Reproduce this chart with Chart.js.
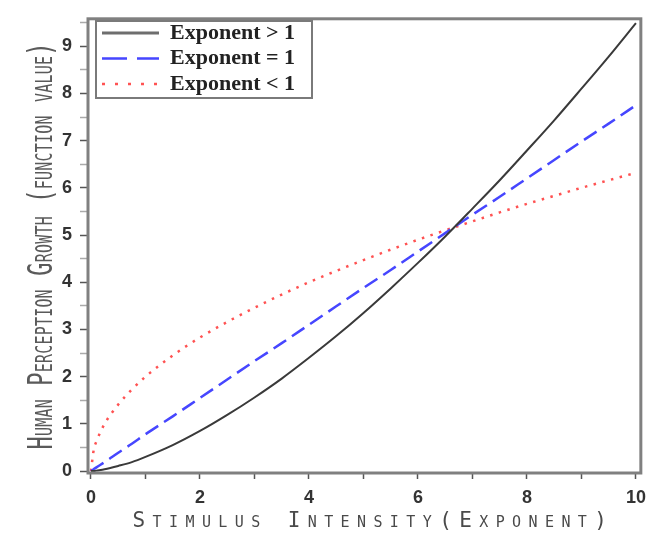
<!DOCTYPE html>
<html>
<head>
<meta charset="utf-8">
<script src="https://cdn.jsdelivr.net/npm/chart.js@4.4.1/dist/chart.umd.min.js"></script>
<style>
  html, body { margin: 0; padding: 0; background: #fff; }
</style>
</head>
<body>
<canvas id="chart" width="654" height="535"></canvas>
<script>
// values
var xValues     = [0, 0.05, 0.1, 0.25, 0.5, 0.75, 1, 1.5, 2, 2.5, 3, 3.5, 4, 4.5, 5, 5.5, 6, 6.5, 7, 7.5, 8, 8.5, 9, 9.5, 10];
var aboveOne    = [0, 0.0, 0.01, 0.04, 0.11, 0.19, 0.30, 0.55, 0.85, 1.19, 1.56, 1.96, 2.40, 2.86, 3.35, 3.87, 4.41, 4.97, 5.56, 6.16, 6.79, 7.43, 8.10, 8.78, 9.49];
var equalOne    = [0, 0.04, 0.08, 0.19, 0.39, 0.58, 0.78, 1.16, 1.55, 1.94, 2.33, 2.71, 3.10, 3.49, 3.88, 4.26, 4.65, 5.04, 5.43, 5.81, 6.20, 6.59, 6.98, 7.36, 7.75];
var belowOne    = [0, 0.45, 0.63, 1.00, 1.41, 1.73, 2.00, 2.45, 2.83, 3.16, 3.46, 3.74, 4.00, 4.24, 4.47, 4.69, 4.90, 5.10, 5.29, 5.48, 5.66, 5.83, 6.00, 6.16, 6.32];
var seriesNames = ['Exponent > 1', 'Exponent = 1', 'Exponent < 1'];
var xTickLabels = [0, 2, 4, 6, 8, 10];
var yTickLabels = [0, 1, 2, 3, 4, 5, 6, 7, 8, 9];

function points(ys) {
  return xValues.map(function (x, i) { return { x: x, y: ys[i] }; });
}

// draw an axis title with small caps, letter spacing and a vertical stretch
function styleTitle(scale, sy, spacing, dx) {
  if (scale._styled) return;
  scale._styled = true;
  var orig = scale.drawTitle;
  scale.drawTitle = function () {
    var ctx = this.ctx;
    var fill = CanvasRenderingContext2D.prototype.fillText;
    ctx.fillText = function (t, x, y) {
      this.save();
      this.fontVariantCaps = 'small-caps';
      this.letterSpacing = spacing;
      this.scale(1, sy);
      fill.call(this, t, x + dx, y / sy);
      this.restore();
    };
    orig.call(this);
    delete ctx.fillText;
  };
}

var legendDash = [[], [25, 10], [3, 10]];

var framePlugin = {
  id: 'frame',
  beforeDraw: function (chart) {
    styleTitle(chart.scales.x, 1.0, '7.4px', 9);
    styleTitle(chart.scales.y, 1.5, '0.2px', 0);
    var lg = chart.legend;
    var pad = lg.options.labels.padding;
    lg.left = 102 - pad;
    lg.top = 22 - pad;
    lg.right = 330;
    lg.bottom = 115;
    lg.width = lg.right - lg.left;
    lg.height = lg.bottom - lg.top;
  },
  afterDatasetsDraw: function (chart) {
    var a = chart.chartArea, ctx = chart.ctx;
    ctx.save();
    ctx.strokeStyle = '#808080';
    ctx.lineWidth = 3;
    ctx.strokeRect(a.left, a.top, a.right - a.left, a.bottom - a.top);
    ctx.restore();
  },
  afterDraw: function (chart) {
    var ctx = chart.ctx;
    ctx.save();
    ctx.strokeStyle = '#7a7a7a';
    ctx.lineWidth = 2;
    ctx.strokeRect(96, 21, 216, 77);
    ctx.restore();
  }
};

var tickFont = { family: 'Liberation Sans', size: 18, weight: 'bold' };

new Chart(document.getElementById('chart').getContext('2d'), {
  type: 'line',
  data: {
    datasets: [{
      label: seriesNames[0],
      data: points(aboveOne),
      borderColor: '#3a3a3a',
      borderWidth: 2,
      pointRadius: 0,
      cubicInterpolationMode: 'monotone',
      fill: false
    }, {
      label: seriesNames[1],
      data: points(equalOne),
      borderColor: '#4646ff',
      borderWidth: 2.5,
      borderDash: [15, 7],
      pointRadius: 0,
      cubicInterpolationMode: 'monotone',
      fill: false
    }, {
      label: seriesNames[2],
      data: points(belowOne),
      borderColor: '#ff5252',
      borderWidth: 2.5,
      borderDash: [2.5, 6.5],
      pointRadius: 0,
      cubicInterpolationMode: 'monotone',
      fill: false
    }]
  },
  options: {
    responsive: false,
    animation: false,
    events: [],
    layout: { padding: { top: 11, right: 6, left: 0, bottom: 0 } },
    plugins: {
      tooltip: { enabled: false },
      legend: {
        position: 'chartArea',
        align: 'start',
        labels: {
          usePointStyle: true,
          pointStyle: 'line',
          pointStyleWidth: 57,
          boxHeight: 20,
          padding: 3.5,
          color: '#222',
          font: { family: 'Liberation Serif', size: 22, weight: 'bold' },
          generateLabels: function (chart) {
            var items = Chart.defaults.plugins.legend.labels.generateLabels(chart);
            items.forEach(function (it, i) {
              it.lineDash = legendDash[i];
              if (i === 0) { it.strokeStyle = '#6e6e6e'; it.lineWidth = 3; }
            });
            return items;
          }
        }
      }
    },
    scales: {
      x: {
        type: 'linear',
        min: -0.055,
        max: 10.09,
        afterFit: function (s) { s.height = 62; },
        border: { display: false },
        grid: {
          drawOnChartArea: false,
          tickLength: 6,
          tickWidth: 1.5,
          tickColor: '#555'
        },
        ticks: {
          stepSize: 1,
          includeBounds: false,
          autoSkip: false,
          maxRotation: 0,
          padding: 8,
          color: '#333',
          font: tickFont,
          callback: function (v) { return xTickLabels.indexOf(v) >= 0 ? String(v) : ''; }
        },
        title: {
          display: true,
          text: 'Stimulus Intensity(Exponent)',
          color: '#4a4a4a',
          font: { family: 'DejaVu Sans Mono', size: 21 },
          padding: { top: 0, bottom: 1 }
        }
      },
      y: {
        type: 'linear',
        min: -0.04,
        max: 9.58,
        afterFit: function (s) { s.width = 88; },
        border: { display: false },
        grid: {
          drawOnChartArea: false,
          tickLength: 8,
          tickWidth: 1.5,
          tickColor: function (c) { return Number.isInteger(c.tick.value) ? '#555' : '#aaa'; }
        },
        ticks: {
          stepSize: 0.5,
          includeBounds: false,
          autoSkip: false,
          padding: 8,
          color: '#333',
          font: tickFont,
          callback: function (v) { return yTickLabels.indexOf(v) >= 0 ? String(v) : ''; }
        },
        title: {
          display: true,
          text: 'Human Perception Growth (function value)',
          color: '#5a5a5a',
          font: { family: 'DejaVu Sans Mono', size: 22 },
          padding: { top: 30, bottom: 0 }
        }
      }
    }
  },
  plugins: [framePlugin]
});
</script>
</body>
</html>
